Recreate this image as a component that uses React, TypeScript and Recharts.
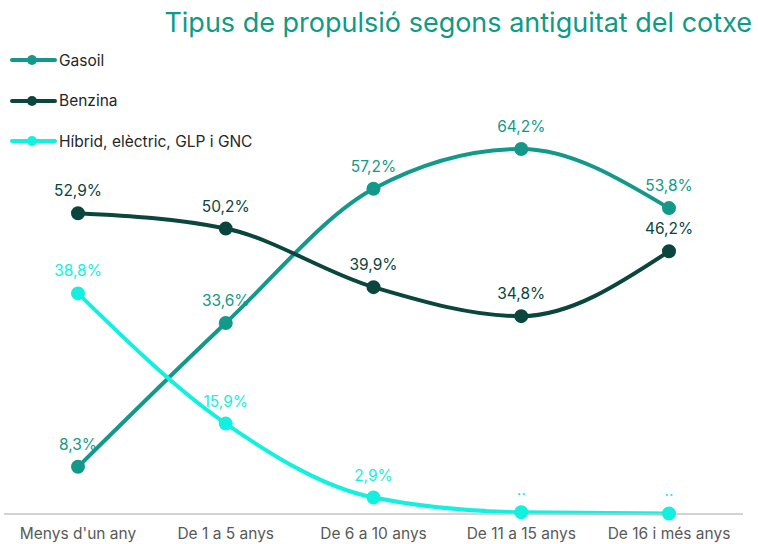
import { LineChart, Line, XAxis, YAxis, LabelList } from 'recharts';

const categories = ['Menys d\'un any', 'De 1 a 5 anys', 'De 6 a 10 anys', 'De 11 a 15 anys', 'De 16 i més anys'];
const gasoil = [8.3, 33.6, 57.2, 64.2, 53.8];
const benzina = [52.9, 50.2, 39.9, 34.8, 46.2];
const hibrid = [38.8, 15.9, 2.9, 0.3, 0.1];
const hibridLabels = ['38,8%', '15,9%', '2,9%', '..', '..'];

const COLORS = { gasoil: '#13998a', benzina: '#0a463d', hibrid: '#14f0df' };
const FONT = 'Inter, "Open Sans", sans-serif';
const FS = 15.5;

const data = categories.map((name, i) => ({
  name,
  gasoil: gasoil[i],
  benzina: benzina[i],
  hibrid: hibrid[i],
  hibridLabel: hibridLabels[i],
}));

const pct = (v: any) => `${Number(v).toFixed(1).replace('.', ',')}%`;

const legendItems = [
  { label: 'Gasoil', color: COLORS.gasoil },
  { label: 'Benzina', color: COLORS.benzina },
  { label: 'Híbrid, elèctric, GLP i GNC', color: COLORS.hibrid },
];

function ChartLegend() {
  return (
    <div style={{ position: 'absolute', left: 10, top: 40 }}>
      {legendItems.map((it) => (
        <div key={it.label} style={{ display: 'flex', alignItems: 'center', height: 40.5 }}>
          <svg width={47} height={12}>
            <line x1={2} y1={6} x2={45} y2={6} stroke={it.color} strokeWidth={4} strokeLinecap="round" />
            <circle cx={22} cy={6} r={5} fill={it.color} />
          </svg>
          <span style={{ fontSize: FS, color: '#262626', marginLeft: 2 }}>{it.label}</span>
        </div>
      ))}
    </div>
  );
}

export default function App() {
  return (
    <div style={{ position: 'absolute', left: 0, top: 0, width: 758, height: 544, background: '#fff', fontFamily: FONT }}>
      <LineChart width={758} height={544} data={data} margin={{ top: 116, right: 15, bottom: 0, left: 4 }}>
        <XAxis
          dataKey="name"
          height={30}
          padding={{ left: 74, right: 74 }}
          tickLine={false}
          axisLine={{ stroke: '#c4c4c4', strokeWidth: 1.5 }}
          tick={{ fill: '#595959', fontSize: FS, fontFamily: FONT }}
          tickMargin={8}
          interval={0}
        />
        <YAxis hide domain={[0, 70]} />
        <Line type="monotone" dataKey="gasoil" stroke={COLORS.gasoil} strokeWidth={4} dot={{ r: 5, fill: COLORS.gasoil, stroke: COLORS.gasoil }} isAnimationActive={false}>
          <LabelList dataKey="gasoil" position="top" offset={17} formatter={pct} fill={COLORS.gasoil} fontSize={FS} fontFamily={FONT} />
        </Line>
        <Line type="monotone" dataKey="benzina" stroke={COLORS.benzina} strokeWidth={4} dot={{ r: 5, fill: COLORS.benzina, stroke: COLORS.benzina }} isAnimationActive={false}>
          <LabelList dataKey="benzina" position="top" offset={17} formatter={pct} fill={COLORS.benzina} fontSize={FS} fontFamily={FONT} />
        </Line>
        <Line type="monotone" dataKey="hibrid" stroke={COLORS.hibrid} strokeWidth={4} dot={{ r: 5, fill: COLORS.hibrid, stroke: COLORS.hibrid }} isAnimationActive={false}>
          <LabelList dataKey="hibridLabel" position="top" offset={17} fill={COLORS.hibrid} fontSize={FS} fontFamily={FONT} />
        </Line>
      </LineChart>
      <ChartLegend />
      <div style={{ position: 'absolute', right: 6, top: 6, fontSize: 27, color: '#0f9a86', whiteSpace: 'nowrap' }}>
        Tipus de propulsió segons antiguitat del cotxe
      </div>
    </div>
  );
}
